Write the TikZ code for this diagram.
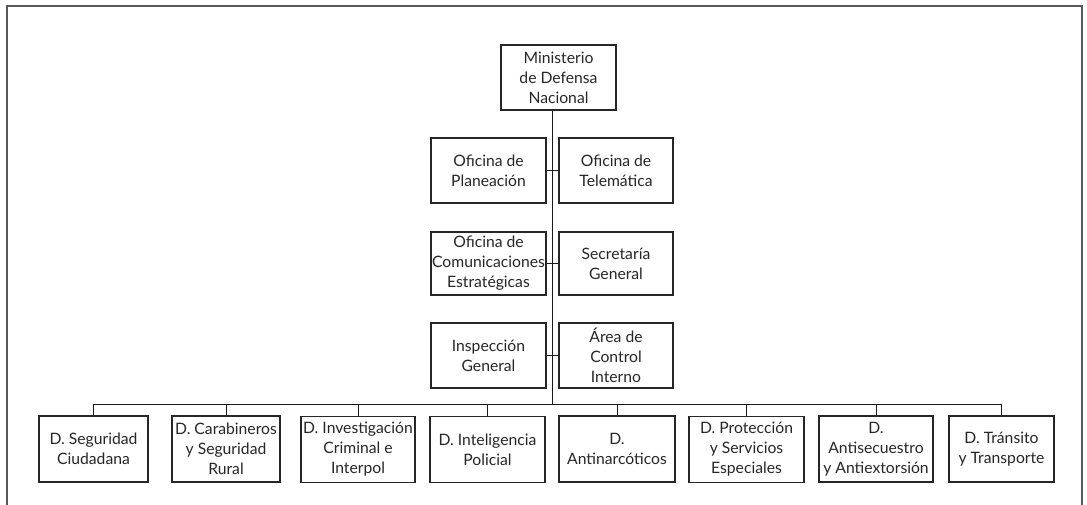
\documentclass[tikz,border=0pt]{standalone}
\usepackage{fontspec}
\setmainfont{Lato}
\begin{document}
\begin{tikzpicture}[x=1pt,y=-1pt,
  box/.style={draw=black!85,line width=1.1pt,align=center,inner sep=0pt,
    minimum height=65pt,font=\fontsize{15.7}{20}\selectfont,text=black!85},
  link/.style={draw=black!90,line width=0.9pt},
  frame/.style={draw=black!65,line width=2pt}]
\useasboundingbox (0,0) rectangle (1087,505);
\draw[frame] (7,505) -- (7,6) -- (1082,6) -- (1082,505);
% top
\node[box,minimum width=115pt] (min) at (558.5,77.5) {Ministerio\\de Defensa\\Nacional};
\node[box,minimum width=115pt] (plan) at (488.5,170.5) {Oficina de\\Planeación};
\node[box,minimum width=114pt] (tele) at (616,170.5) {Oficina de\\Telemática};
\node[box,minimum width=115pt,minimum height=63pt] (com) at (488.5,263.5) {Oficina de\\Comunicaciones\\Estratégicas};
\node[box,minimum width=114pt,minimum height=63pt] (sec) at (616,263.5) {Secretaría\\General};
\node[box,minimum width=115pt] (insp) at (488.5,355.5) {Inspección\\General};
\node[box,minimum width=114pt] (area) at (616,355.5) {Área de\\Control\\Interno};
% bottom
\node[box,minimum width=109pt,minimum height=66pt] (b1) at (93.5,449) {D. Seguridad\\Ciudadana};
\node[box,minimum width=108pt,minimum height=66pt] (b2) at (226,449) {D. Carabineros\\y Seguridad\\Rural};
\node[box,minimum width=114pt,minimum height=66pt] (b3) at (358,449.5) {D. Investigación\\Criminal e\\Interpol};
\node[box,minimum width=115pt,minimum height=66pt] (b4) at (487.5,449.5) {D. Inteligencia\\Policial};
\node[box,minimum width=116pt,minimum height=66pt] (b5) at (617,449) {D.\\Antinarcóticos};
\node[box,minimum width=115pt,minimum height=66pt] (b6) at (746.5,449.5) {D. Protección\\y Servicios\\Especiales};
\node[box,minimum width=114pt,minimum height=66pt] (b7) at (876,449) {D.\\Antisecuestro\\y Antiextorsión};
\node[box,minimum width=105pt,minimum height=66pt] (b8) at (1001.5,449) {D. Tránsito\\y Transporte};
% connectors
\coordinate (bus) at (552,404);
\draw[link] (min.south -| bus) -- (bus);
\draw[link] (plan.east) -- (tele.west);
\draw[link] (com.east) -- (sec.west);
\draw[link] (insp.east) -- (area.west);
\foreach \i in {1,...,8} \draw[link] (b\i.north) |- (bus);
\end{tikzpicture}
\end{document}
